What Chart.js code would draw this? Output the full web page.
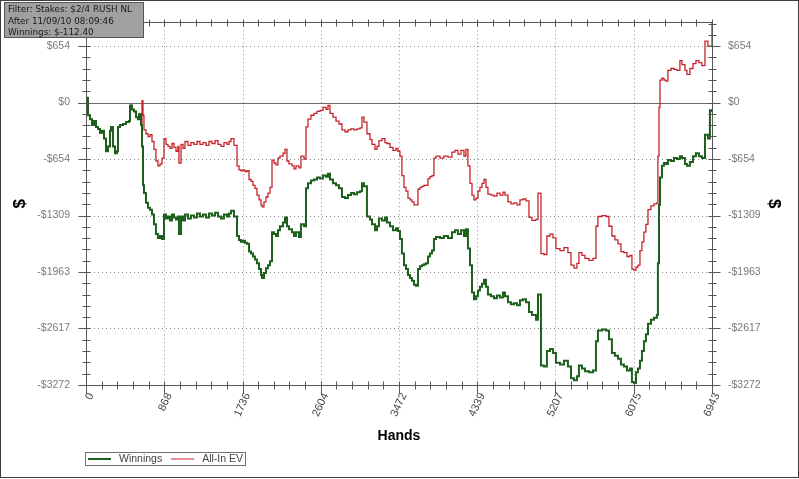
<!DOCTYPE html>
<html>
<head>
<meta charset="utf-8">
<script src="https://cdn.jsdelivr.net/npm/chart.js@4/dist/chart.umd.min.js"></script>
<style>
html, body { margin: 0; padding: 0; background: #fff; }
canvas { display: block; }
</style>
</head>
<body>
<canvas id="graph" width="799" height="479"></canvas>
<script>
// hands played (x) and cumulative $ for both lines
const hands = [
  0,11,22,44,67,89,111,133,155,177,200,222,244,266,277,299,322,344,355,377,410,444,477,488,510,532,555,577,588,610,621,
  632,643,665,688,710,732,754,776,798,821,843,865,887,909,932,954,976,998,1020,1031,1054,1076,1098,1131,1164,1198,1231,1264,1298,1331,1364,1397,1431,1464,1497,1530,1564,1586,1608,1641,1675,1697,1719,1741,1763,1785,1808,
  1830,1852,1874,1896,1919,1941,1952,1974,1996,2018,2041,2063,2085,2107,2129,2151,2185,2207,2229,2251,2285,2307,
  2329,2362,2384,2418,2440,2462,2495,2529,2562,2595,2628,2662,2684,2706,2739,2773,2806,2839,2872,2906,2939,2972,3005,3039,3061,3083,3116,3150,3172,3205,3227,3249,3283,3316,3338,3371,3405,3438,3460,3482,3504,3527,3549,3571,3593,3615,3638,3660,3682,
  3704,3726,3748,3771,3793,3815,3837,3859,3882,3926,3970,4015,4059,4092,4125,4159,4192,4214,4236,4259,4281,4303,4325,4347,4369,4392,4414,4436,4458,4491,4525,4558,4591,4624,4647,4680,4713,4747,4780,4813,4846,4880,4913,4946,4991,5013,
  5046,5079,5112,5146,5179,5212,5257,5301,5345,5379,5412,5445,5467,5501,5534,5578,5623,5656,5678,5722,5767,5800,5833,5866,5900,5933,5966,6000,6033,6055,6077,6100,6122,6144,6166,6188,6210,6233,6266,6299,6332,6343,6355,6366,6388,6410,6432,6454,6488,6521,6554,6587,6610,6643,6665,6698,6732,6765,6798,6831,6865,6898,6920,6943
];
const winnings = [
  0,56,-147,-192,-260,-214,-282,-305,-350,-327,-417,-564,-508,-327,-282,-508,-587,-564,-282,-260,-248,-226,-214,-34,-79,-102,-169,-192,-135,-260,-508,
  -959,-1049,-1162,-1219,-1241,-1298,-1410,-1523,-1568,-1546,-1580,-1298,-1343,-1320,-1365,-1298,-1331,-1354,-1320,-1523,-1320,-1365,-1298,-1343,-1309,-1331,-1286,-1320,-1298,-1331,-1286,-1309,-1275,-1320,-1343,-1298,-1320,-1286,-1252,-1320,-1546,-1591,-1613,-1602,-1624,-1636,-1726,
  -1749,-1783,-1817,-1862,-1929,-1997,-2031,-1975,-1918,-1884,-1839,-1501,-1523,-1546,-1478,-1433,-1388,-1331,-1433,-1467,-1501,-1546,
  -1501,-1557,-1410,-1433,-993,-936,-903,-891,-869,-880,-846,-858,-824,-891,-936,-959,-993,-1094,-1106,-1072,-1049,-1061,-1038,-1027,-936,-970,-1320,-1354,-1410,-1478,-1433,-1343,-1365,-1331,-1388,-1433,-1478,-1456,-1489,-1580,-1749,-1884,-1929,-1997,-2031,-2065,-2110,-2121,-1929,
  -1896,-1884,-1873,-1862,-1783,-1749,-1715,-1580,-1557,-1568,-1546,-1568,-1501,-1478,-1523,-1478,-1546,-1467,-1692,-1884,-2200,-2279,-2245,-2178,-2133,-2099,-2054,-2133,-2223,-2245,-2268,-2234,-2257,-2200,-2245,-2313,-2336,-2324,-2347,-2290,-2279,-2313,-2426,-2460,-2516,-2223,
  -3046,-3058,-2877,-2855,-2900,-3013,-3035,-2990,-3058,-3193,-3216,-3171,-3046,-3080,-3114,-3125,-3103,-2764,-2640,-2629,-2640,-2742,-2900,-2934,-2967,-3035,-3058,-3103,-3080,-3238,-3250,-3125,-3080,-2990,-2877,-2764,-2685,-2561,-2516,-2494,-2460,-1862,-1185,-869,-733,-700,-711,-666,-677,-643,-654,-621,-643,-711,-733,-688,-621,-587,-621,-643,-372,-417,-90,-112
];
const allInEV = [
  0,56,-147,-192,-260,-214,-282,-305,-350,-327,-417,-564,-508,-327,-282,-508,-587,-564,-282,-260,-248,-226,-214,-34,-79,-102,-169,-192,-135,-260,23,
  -147,-316,-361,-395,-372,-451,-542,-677,-733,-711,-643,-417,-485,-508,-530,-474,-519,-564,-508,-700,-485,-530,-451,-496,-463,-485,-451,-485,-463,-496,-451,-474,-440,-485,-508,-463,-485,-451,-417,-496,-733,-779,-790,-779,-801,-790,-891,
  -914,-959,-993,-1072,-1128,-1185,-1207,-1151,-1094,-1049,-982,-666,-700,-722,-643,-621,-587,-542,-677,-711,-733,-767,
  -733,-756,-621,-654,-282,-192,-147,-124,-102,-90,-56,-79,-34,-124,-169,-214,-248,-316,-338,-316,-305,-316,-305,-293,-169,-226,-361,-429,-485,-542,-508,-440,-417,-463,-474,-519,-553,-530,-564,-621,-846,-982,-1027,-1106,-1128,-1151,-1185,-1185,-1004,
  -982,-970,-959,-959,-880,-858,-846,-643,-621,-643,-621,-632,-575,-553,-598,-553,-621,-542,-733,-936,-1072,-1128,-1106,-1027,-982,-936,-891,-982,-1061,-1072,-1083,-1049,-1072,-1038,-1072,-1151,-1173,-1162,-1185,-1128,-1117,-1140,-1331,-1365,-1354,-1049,
  -1749,-1760,-1546,-1523,-1568,-1692,-1715,-1681,-1738,-1884,-1918,-1862,-1738,-1771,-1805,-1828,-1805,-1433,-1320,-1309,-1320,-1433,-1546,-1591,-1636,-1726,-1738,-1783,-1771,-1929,-1941,-1907,-1884,-1715,-1613,-1501,-1410,-1241,-1196,-1173,-1162,-621,-56,260,282,260,248,372,395,384,372,485,440,372,327,395,451,485,463,429,711,654,654,925
];

const xTicks = [0, 868, 1736, 2604, 3472, 4339, 5207, 6075, 6943];
const yTicks = [-3272, -2617, -1963, -1309, -654, 0, 654];
const yMin = -3272;
const yMax = 930;
const infoLines = ['Filter: Stakes: $2/4 RUSH NL', 'After 11/09/10 08:09:46', 'Winnings: $-112.40'];

const money = v => (v < 0 ? '-$' : '$') + Math.abs(v);
const points = arr => hands.map((h, i) => ({x: h, y: arr[i]}));
const sans = 'Liberation Sans, Arial, sans-serif';

// 4 minor ticks between each pair of major ticks
function minorValues(majors, limit) {
  var out = [];
  for (var i = 0; i < majors.length - 1; i++) {
    for (var j = 1; j < 5; j++) out.push(majors[i] + (majors[i + 1] - majors[i]) * j / 5);
  }
  if (limit !== undefined) {
    var step = (majors[1] - majors[0]) / 5;
    for (var v = majors[majors.length - 1] + step; v < limit; v += step) out.push(v);
  }
  return out;
}

var decor = {
  id: 'decor',
  beforeDraw(chart) {
    var ctx = chart.ctx;
    ctx.save();
    ctx.fillStyle = '#fff';
    ctx.fillRect(0, 0, chart.width, chart.height);
    ctx.restore();
  },
  beforeDatasetsDraw(chart) {
    var ctx = chart.ctx, a = chart.chartArea, x = chart.scales.x, y = chart.scales.y;
    ctx.save();
    ctx.lineWidth = 1;
    ctx.strokeStyle = '#8a8a8a';
    ctx.setLineDash([1, 3]);
    xTicks.slice(1, -1).forEach(function (v) {
      var px = Math.round(x.getPixelForValue(v)) + 0.5;
      ctx.beginPath(); ctx.moveTo(px, a.top); ctx.lineTo(px, a.bottom); ctx.stroke();
    });
    yTicks.forEach(function (v) {
      if (v === 0 || v === yMin) return;
      var py = Math.round(y.getPixelForValue(v)) + 0.5;
      ctx.beginPath(); ctx.moveTo(a.left, py); ctx.lineTo(a.right, py); ctx.stroke();
    });
    ctx.setLineDash([]);
    ctx.strokeStyle = '#6a6a6a';
    var zy = Math.round(y.getPixelForValue(0)) + 0.5;
    ctx.beginPath(); ctx.moveTo(a.left - 8, zy); ctx.lineTo(a.right + 8, zy); ctx.stroke();
    ctx.restore();
  },
  afterDatasetsDraw(chart) {
    var ctx = chart.ctx, a = chart.chartArea, x = chart.scales.x, y = chart.scales.y;
    ctx.save();
    ctx.lineWidth = 1;
    ctx.strokeStyle = '#555';
    var L = Math.round(a.left) + 0.5, R = Math.round(a.right) + 0.5;
    var T = Math.round(a.top) + 0.5, B = Math.round(a.bottom) + 0.5;
    ctx.strokeRect(L, T, R - L, B - T);

    function xMarks(values, out, inn) {
      values.forEach(function (v) {
        var px = Math.round(x.getPixelForValue(v)) + 0.5;
        ctx.beginPath(); ctx.moveTo(px, B - inn); ctx.lineTo(px, B + out); ctx.stroke();
        ctx.beginPath(); ctx.moveTo(px, T - 3); ctx.lineTo(px, T + inn); ctx.stroke();
      });
    }
    function yMarks(values, out, inn) {
      values.forEach(function (v) {
        var py = Math.round(y.getPixelForValue(v)) + 0.5;
        ctx.beginPath(); ctx.moveTo(L - out, py); ctx.lineTo(L + inn, py); ctx.stroke();
        ctx.beginPath(); ctx.moveTo(R - inn, py); ctx.lineTo(R + out, py); ctx.stroke();
      });
    }
    xMarks(xTicks, 8, 4);
    xMarks(minorValues(xTicks), 4, 4);
    yMarks(yTicks, 8, 4);
    yMarks(minorValues(yTicks, yMax), 4, 4);
    ctx.restore();
  },
  afterDraw(chart) {
    var ctx = chart.ctx;
    ctx.save();
    // legend
    ctx.strokeStyle = '#707070';
    ctx.lineWidth = 1;
    ctx.strokeRect(85.5, 452.5, 160, 13);
    ctx.font = '10.5px ' + sans;
    ctx.textBaseline = 'middle';
    ctx.fillStyle = '#444';
    var lx = 88;
    chart.data.datasets.forEach(function (ds) {
      ctx.strokeStyle = ds.borderColor;
      ctx.lineWidth = ds.label === 'Winnings' ? 2 : 1;
      ctx.beginPath(); ctx.moveTo(lx, 459); ctx.lineTo(lx + 23, 459); ctx.stroke();
      ctx.fillText(ds.label, lx + 31, 459.5);
      lx += 31 + ctx.measureText(ds.label).width + 9;
    });
    // info box
    ctx.fillStyle = '#a0a0a0';
    ctx.fillRect(4, 2, 140, 36);
    ctx.strokeStyle = '#555';
    ctx.lineWidth = 1;
    ctx.strokeRect(4.5, 2.5, 139, 35);
    ctx.fillStyle = '#1a1a1a';
    ctx.font = '8.8px "DejaVu Sans"';
    ctx.textBaseline = 'middle';
    infoLines.forEach(function (t, i) { ctx.fillText(t, 8, 10 + i * 11.5); });
    // outer frame
    ctx.strokeStyle = '#3c3c3c';
    ctx.strokeRect(0.5, 0.5, chart.width - 1, 477);
    ctx.restore();
  }
};

var yAxis = function (pos, width, titlePad) {
  return {
    type: 'linear',
    position: pos,
    min: yMin,
    max: yMax,
    afterBuildTicks: function (s) { s.ticks = yTicks.map(function (v) { return {value: v}; }); },
    afterFit: function (s) { s.width = width; },
    ticks: {autoSkip: false, padding: 16, color: '#7a7a7a', font: {family: sans, size: 10.5}, callback: function (v) { return money(v); }},
    grid: {display: false, drawTicks: false},
    border: {display: false},
    title: {display: true, text: '$', color: '#000', font: {family: sans, size: 17, weight: 'bold'}, padding: {top: titlePad, bottom: 0}}
  };
};

var graph = new Chart(document.getElementById('graph'), {
  type: 'line',
  data: {
    datasets: [
      {label: 'Winnings', data: points(winnings), borderColor: '#1c601c', borderWidth: 2, stepped: true, pointRadius: 0, fill: false, yAxisID: 'y'},
      {label: 'All-In EV', data: points(allInEV), borderColor: '#c4242c', borderWidth: 1.3, stepped: true, pointRadius: 0, fill: false, yAxisID: 'y'}
    ]
  },
  options: {
    responsive: false,
    animation: false,
    devicePixelRatio: 1,
    layout: {padding: {top: 13}},
    plugins: {legend: {display: false}, tooltip: {enabled: false}},
    scales: {
      x: {
        type: 'linear',
        min: 0,
        max: 6943,
        afterBuildTicks: function (s) { s.ticks = xTicks.map(function (v) { return {value: v}; }); },
        afterFit: function (s) { s.height = 94; },
        ticks: {autoSkip: false, minRotation: 65, maxRotation: 65, padding: 6, labelOffset: 5, color: '#444', font: {family: sans, size: 11}, callback: function (v) { return String(v); }},
        grid: {display: false, drawTicks: false},
        border: {display: false},
        title: {display: true, text: 'Hands', color: '#000', font: {family: sans, size: 14, weight: 'bold'}, padding: {top: 0, bottom: 34}}
      },
      y: yAxis('left', 86, 10),
      y2: yAxis('right', 87, 15)
    }
  },
  plugins: [decor]
});
</script>
</body>
</html>
